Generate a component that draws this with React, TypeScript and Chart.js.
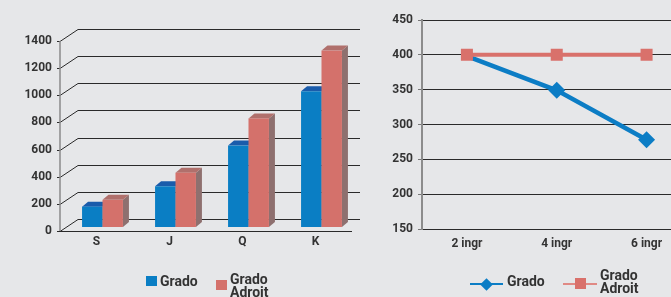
import React, { useEffect, useRef } from "react";
import { Chart, registerables } from "chart.js";

Chart.register(...registerables);

// ---------- data ----------
const barCategories = ["S", "J", "Q", "K"];
const barGrado = [150, 300, 600, 1000];
const barGradoAdroit = [200, 400, 800, 1300];
const barTicks = [0, 200, 400, 600, 800, 1000, 1200, 1400];

const lineCategories = ["2 ingr", "4 ingr", "6 ingr"];
const lineGrado = [398, 349, 278];
const lineGradoAdroit = [400, 400, 400];

const seriesNames = ["Grado", "Grado Adroit"];

// ---------- style ----------
const BG = "#e6e7e9";
const FONT = "Roboto, 'DejaVu Sans', Arial, sans-serif";
const TEXT = "#333333";
const GRID = "#2a2a2a";
const BLUE = "#0a7ec4";
const BLUE_TOP = "#1a5cab";
const BLUE_SIDE = "#0b5d93";
const RED = "#d4716b";
const RED_TOP = "#b0706c";
const RED_SIDE = "#8e706f";
const LINE_BLUE = "#0c7dc5";
const LINE_RED = "#d9716b";

const FACES = [
  { front: BLUE, top: BLUE_TOP, side: BLUE_SIDE },
  { front: RED, top: RED_TOP, side: RED_SIDE },
];

// depth of the back wall and of the bars
const WALL_DX = 18;
const WALL_DY = 12;
const BAR_SHIFT_X = 6;
const BAR_SHIFT_Y = 4;
const BAR_DX = 6;
const BAR_DY = 5;

const bar3dPlugin = {
  id: "bar3d",
  beforeDatasetsDraw(chart: any) {
    const { ctx, chartArea } = chart;
    const { left, right, top, bottom } = chartArea;
    const yScale = chart.scales.y;
    ctx.save();
    ctx.lineWidth = 1;
    ctx.strokeStyle = GRID;
    // gridlines: front tick -> diagonal -> back wall line
    yScale.ticks.forEach((t: any) => {
      const fy = Math.round(yScale.getPixelForValue(t.value)) + 0.5;
      ctx.beginPath();
      ctx.moveTo(left, fy);
      ctx.lineTo(left + WALL_DX, fy - WALL_DY);
      ctx.lineTo(chart.width, fy - WALL_DY);
      ctx.stroke();
      ctx.beginPath();
      ctx.moveTo(left - 3, fy);
      ctx.lineTo(left, fy);
      ctx.stroke();
    });
    // front floor line
    const fb = Math.round(bottom) + 0.5;
    ctx.beginPath();
    ctx.moveTo(left, fb);
    ctx.lineTo(right, fb);
    ctx.stroke();
    // y axis line
    ctx.strokeStyle = "#8a8a8a";
    ctx.lineWidth = 1.5;
    ctx.beginPath();
    ctx.moveTo(Math.round(left), top);
    ctx.lineTo(Math.round(left), bottom);
    ctx.stroke();

    // 3D bars
    const n = chart.data.labels.length;
    for (let j = 0; j < n; j++) {
      for (let i = 0; i < chart.data.datasets.length; i++) {
        const el = chart.getDatasetMeta(i).data[j];
        if (!el) continue;
        const p = el.getProps(["x", "y", "base", "width"], true);
        const x0 = p.x - p.width / 2 + BAR_SHIFT_X;
        const x1 = p.x + p.width / 2 + BAR_SHIFT_X;
        const y0 = p.y - BAR_SHIFT_Y;
        const y1 = p.base - BAR_SHIFT_Y;
        const f = FACES[i];
        // side
        ctx.fillStyle = f.side;
        ctx.beginPath();
        ctx.moveTo(x1, y0);
        ctx.lineTo(x1 + BAR_DX, y0 - BAR_DY);
        ctx.lineTo(x1 + BAR_DX, y1 - BAR_DY);
        ctx.lineTo(x1, y1);
        ctx.closePath();
        ctx.fill();
        // top
        ctx.fillStyle = f.top;
        ctx.beginPath();
        ctx.moveTo(x0, y0);
        ctx.lineTo(x1, y0);
        ctx.lineTo(x1 + BAR_DX, y0 - BAR_DY);
        ctx.lineTo(x0 + BAR_DX, y0 - BAR_DY);
        ctx.closePath();
        ctx.fill();
        // front
        ctx.fillStyle = f.front;
        ctx.fillRect(x0, y0, x1 - x0, y1 - y0);
      }
    }
    ctx.restore();
    return false;
  },
};

const tickFont = { family: FONT, size: 12, weight: "bold" as const };
const plainNumber = (v: any) => String(v);

function BarChart() {
  const ref = useRef<HTMLCanvasElement>(null);
  useEffect(() => {
    const chart = new Chart(ref.current!, {
      type: "bar",
      data: {
        labels: barCategories,
        datasets: [
          { label: seriesNames[0], data: barGrado, backgroundColor: BLUE },
          { label: seriesNames[1], data: barGradoAdroit, backgroundColor: RED },
        ],
      },
      options: {
        responsive: false,
        animation: false,
        devicePixelRatio: 1,
        layout: { padding: { top: 41, right: 8, left: 0, bottom: 0 } },
        datasets: { bar: { barPercentage: 1, categoryPercentage: 0.56 } },
        plugins: { legend: { display: false }, tooltip: { enabled: false } },
        scales: {
          x: {
            grid: { display: false, drawTicks: false },
            border: { display: false },
            ticks: { font: tickFont, color: TEXT, padding: 4, maxRotation: 0 },
            afterFit: (s: any) => {
              s.height = 66;
            },
          },
          y: {
            min: barTicks[0],
            max: barTicks[barTicks.length - 1],
            afterBuildTicks: (s: any) => {
              s.ticks = barTicks.map((v) => ({ value: v }));
            },
            grid: { display: false, drawTicks: false },
            border: { display: false },
            ticks: { font: tickFont, color: TEXT, padding: 8, callback: plainNumber },
            afterFit: (s: any) => {
              s.width = 60;
            },
          },
        },
      },
      plugins: [bar3dPlugin],
    } as any);
    return () => chart.destroy();
  }, []);
  return <canvas ref={ref} width={360} height={297} style={{ display: "block" }} />;
}

function LineChart() {
  const ref = useRef<HTMLCanvasElement>(null);
  useEffect(() => {
    const chart = new Chart(ref.current!, {
      type: "line",
      data: {
        labels: lineCategories,
        datasets: [
          {
            label: seriesNames[0],
            data: lineGrado,
            borderColor: LINE_BLUE,
            backgroundColor: LINE_BLUE,
            borderWidth: 4.5,
            pointStyle: "rectRot",
            pointRadius: [0, 8.5, 8.5],
            pointBorderWidth: 0,
            order: 1,
          },
          {
            label: seriesNames[1],
            data: lineGradoAdroit,
            borderColor: LINE_RED,
            backgroundColor: LINE_RED,
            borderWidth: 4,
            pointStyle: "rect",
            pointRadius: 8.5,
            pointBorderWidth: 0,
            order: 0,
          },
        ],
      },
      options: {
        responsive: false,
        animation: false,
        devicePixelRatio: 1,
        layout: { padding: { top: 20, right: 4, left: 0, bottom: 0 } },
        plugins: { legend: { display: false }, tooltip: { enabled: false } },
        scales: {
          x: {
            offset: true,
            grid: { display: false, drawTicks: false },
            border: { display: true, color: GRID, width: 1 },
            ticks: { font: tickFont, color: TEXT, padding: 8, maxRotation: 0 },
            afterFit: (s: any) => {
              s.height = 68;
            },
          },
          y: {
            min: 150,
            max: 450,
            ticks: { stepSize: 50, font: tickFont, color: TEXT, padding: 5, callback: plainNumber },
            grid: { color: GRID, lineWidth: 1, tickLength: 4, tickColor: "#777" },
            border: { display: true, color: "#8c8c8c", width: 2 },
            afterFit: (s: any) => {
              s.width = 62;
            },
          },
        },
      },
    } as any);
    return () => chart.destroy();
  }, []);
  return <canvas ref={ref} width={340} height={297} style={{ display: "block" }} />;
}

const legendText: React.CSSProperties = {
  position: "absolute",
  fontFamily: FONT,
  fontWeight: "bold",
  fontSize: 14,
  lineHeight: "13px",
  color: TEXT,
  whiteSpace: "nowrap",
};

export default function App() {
  return (
    <div
      style={{
        position: "absolute",
        left: 0,
        top: 0,
        width: 671,
        height: 297,
        overflow: "hidden",
        background: BG,
      }}
    >
      <div style={{ position: "absolute", left: 0, top: 0 }}>
        <BarChart />
      </div>
      <div style={{ position: "absolute", left: 360, top: 0 }}>
        <LineChart />
      </div>

      {/* left legend */}
      <div style={{ position: "absolute", left: 146, top: 276, width: 11, height: 10, background: BLUE }} />
      <div style={{ ...legendText, left: 160, top: 275 }}>{seriesNames[0]}</div>
      <div style={{ position: "absolute", left: 216, top: 280, width: 11, height: 10, background: RED }} />
      <div style={{ ...legendText, left: 230, top: 273 }}>
        Grado
        <br />
        Adroit
      </div>

      {/* right legend */}
      <div style={{ position: "absolute", left: 470, top: 283, width: 33, height: 2, background: LINE_BLUE }} />
      <div
        style={{
          position: "absolute",
          left: 482,
          top: 280,
          width: 9,
          height: 9,
          background: LINE_BLUE,
          transform: "rotate(45deg)",
        }}
      />
      <div style={{ ...legendText, left: 507, top: 275 }}>{seriesNames[0]}</div>
      <div style={{ position: "absolute", left: 563, top: 283, width: 34, height: 2, background: "#e08a85" }} />
      <div style={{ position: "absolute", left: 575, top: 278, width: 11, height: 11, background: LINE_RED }} />
      <div style={{ ...legendText, left: 600, top: 269 }}>
        Grado
        <br />
        Adroit
      </div>
    </div>
  );
}
